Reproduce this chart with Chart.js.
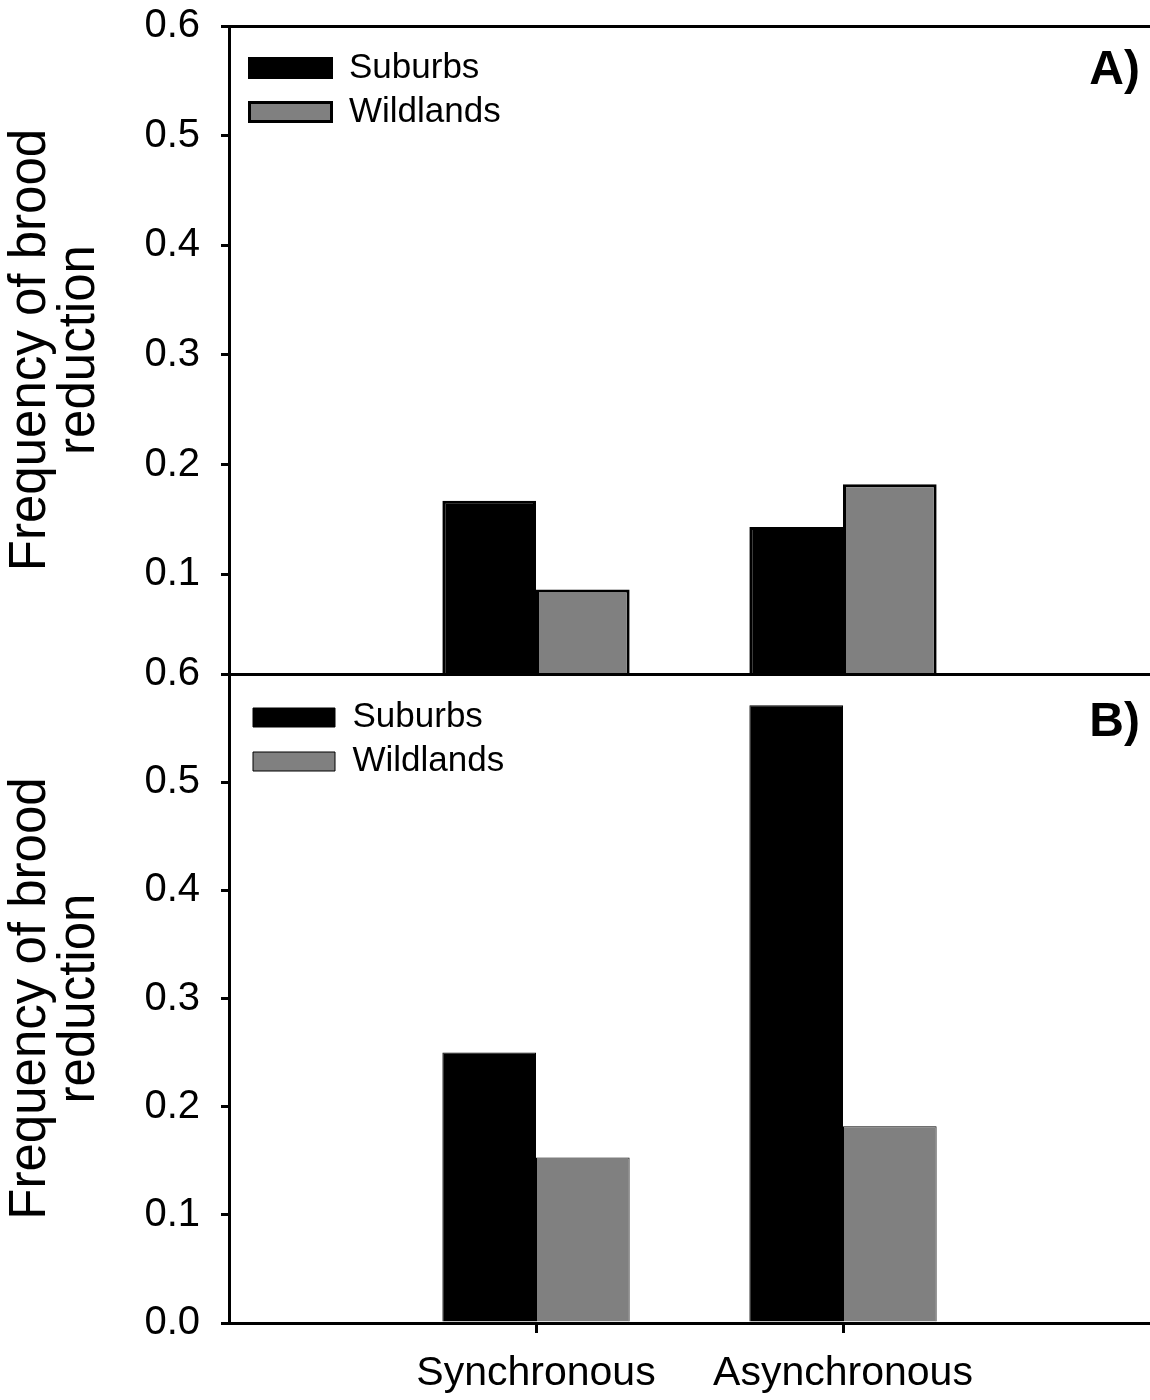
<!DOCTYPE html>
<html><head><meta charset="utf-8">
<script src="https://cdn.jsdelivr.net/npm/chart.js@4.4.1/dist/chart.umd.min.js"></script>
<style>
html,body{margin:0;padding:0;background:#fff;}
#wrap{position:relative;width:1150px;height:1400px;overflow:hidden;background:#fff;}
canvas{position:absolute;left:0;}
#cA{top:0;}
#cB{top:640px;}
</style></head><body>
<div id="wrap"><canvas id="cA" width="1150" height="700"></canvas><canvas id="cB" width="1150" height="760"></canvas></div>
<script>
// ---- data ----
const categories = ['Synchronous', 'Asynchronous'];
const seriesNames = ['Suburbs', 'Wildlands'];
const suburbsA = [0.167, 0.143];
const wildlandsA = [0.086, 0.182];
const suburbsB = [0.250, 0.571];
const wildlandsB = [0.153, 0.182];
const yTicksA = [0.1, 0.2, 0.3, 0.4, 0.5, 0.6];
const yTicksB = [0.0, 0.1, 0.2, 0.3, 0.4, 0.5, 0.6];
const yRangeA = [0.009, 0.6];
const yRangeB = [0.0, 0.6];
const yTitle = ['Frequency of brood', 'reduction'];
const panelLabels = ['A)', 'B)'];

const FONT = "'Liberation Sans', Arial, Helvetica, sans-serif";
const BLACK = '#000000';
const GRAY = '#808080';

function pts(vals) { return categories.map((c, i) => ({ x: i + 1, y: vals[i] })); }

const panelPlugin = {
  id: 'panel',
  afterLayout(chart, args, opts) {
    const lg = chart.legend, ca = chart.chartArea;
    if (lg) {
      lg.left = ca.left + opts.legendDx;
      lg.top = ca.top + opts.legendDy;
      lg.right = ca.right;
      lg.bottom = ca.bottom;
      lg.width = lg.right - lg.left;
      lg.height = lg.bottom - lg.top;
    }
  },
  afterDraw(chart, args, opts) {
    const ctx = chart.ctx, ca = chart.chartArea;
    ctx.save();
    ctx.font = 'bold 48px ' + FONT;
    ctx.textAlign = 'right';
    ctx.textBaseline = 'alphabetic';
    ctx.fillStyle = BLACK;
    ctx.fillText(opts.label, ca.right - opts.labelDx, ca.top + opts.labelDy);
    ctx.restore();
  }
};

function makeChart(id, subs, wild, yTicks, yRange, border, padTop, xHeight, showX, label, lgDx, lgDy, lbDy) {
  return new Chart(document.getElementById(id), {
    type: 'bar',
    data: {
      datasets: [
        { label: seriesNames[0], data: pts(subs), backgroundColor: BLACK, borderColor: BLACK, borderWidth: border },
        { label: seriesNames[1], data: pts(wild), backgroundColor: GRAY, borderColor: BLACK, borderWidth: border }
      ]
    },
    plugins: [panelPlugin],
    options: {
      responsive: false,
      animation: false,
      devicePixelRatio: 1,
      layout: { padding: { top: padTop, left: 0, right: 0, bottom: 0 } },
      datasets: { bar: { categoryPercentage: 0.61, barPercentage: 1.0 } },
      plugins: {
        tooltip: { enabled: false },
        title: { display: false },
        legend: {
          display: true,
          position: 'chartArea',
          align: 'start',
          labels: {
            boxWidth: 82, boxHeight: 19, padding: 9, color: BLACK,
            font: { family: FONT, size: 35 }
          }
        },
        panel: { label: label, labelDx: 10, labelDy: lbDy, legendDx: lgDx, legendDy: lgDy }
      },
      scales: {
        x: {
          type: 'linear', position: 'bottom', min: 0, max: categories.length + 1, offset: false,
          afterBuildTicks: s => { s.ticks = categories.map((c, i) => ({ value: i + 1 })); },
          afterFit: s => { s.height = xHeight; s.paddingLeft = 0; s.paddingRight = 0; },
          ticks: {
            display: showX, color: BLACK, padding: 16, maxRotation: 0, autoSkip: false,
            font: { family: FONT, size: 41 },
            callback: (v, i) => categories[i]
          },
          grid: { display: showX, offset: false, drawOnChartArea: false, tickLength: 10, lineWidth: 3, color: BLACK },
          border: { display: true, width: 3, color: BLACK }
        },
        xTop: {
          type: 'linear', position: 'top', axis: 'x', min: 0, max: 1, offset: false,
          afterFit: s => { s.height = 0; s.paddingLeft = 0; s.paddingRight = 0; },
          ticks: { display: false },
          grid: { display: false },
          border: { display: true, width: 3, color: BLACK }
        },
        y: {
          type: 'linear', position: 'left', min: yRange[0], max: yRange[1], bounds: 'data',
          afterBuildTicks: s => { s.ticks = yTicks.map(v => ({ value: v })); },
          afterFit: s => { s.width = 229; s.paddingTop = 0; s.paddingBottom = 0; },
          ticks: {
            color: BLACK, padding: 21, font: { family: FONT, size: 40 },
            callback: v => Number(v).toFixed(1)
          },
          grid: { display: true, drawOnChartArea: false, tickLength: 8, lineWidth: 3, color: BLACK },
          border: { display: true, width: 3, color: BLACK },
          title: {
            display: true, text: yTitle, color: BLACK,
            font: { family: FONT, size: 51, lineHeight: 0.95 },
            padding: { top: 7, bottom: 0 }
          }
        }
      }
    }
  });
}

makeChart('cA', suburbsA, wildlandsA, yTicksA, yRangeA, 3, 26, 26, false, panelLabels[0], 11.5, 15.5, 58);
makeChart('cB', suburbsB, wildlandsB, yTicksB, yRangeB, 1, 34, 77, true, panelLabels[1], 15, 17, 62);
</script>
</body></html>
